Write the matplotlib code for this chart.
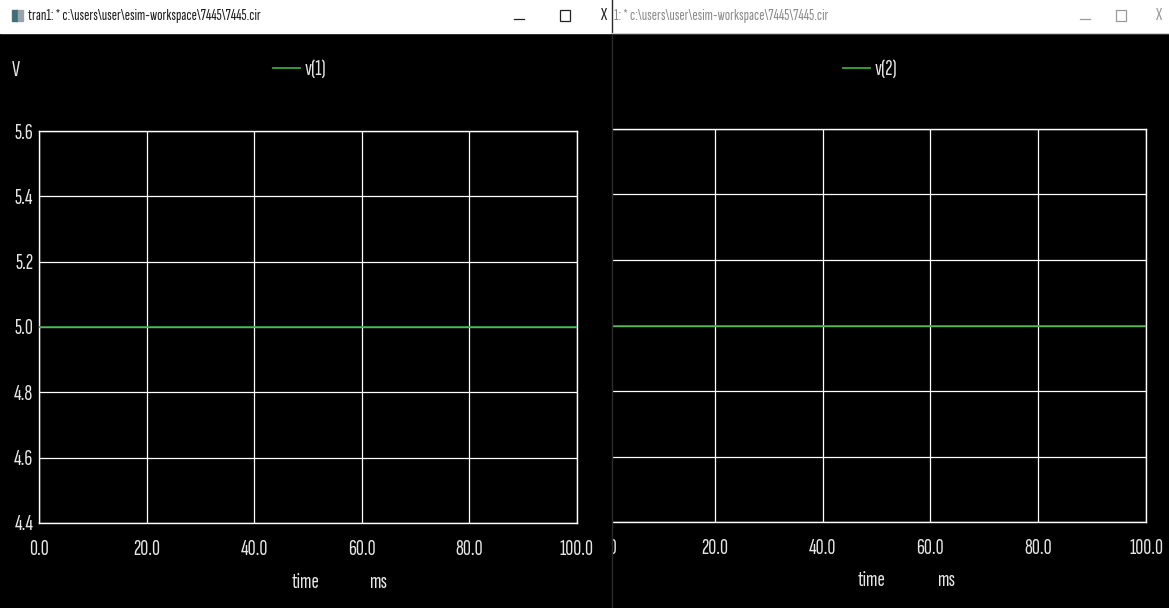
import matplotlib
matplotlib.use("Agg")
import matplotlib.pyplot as plt
from matplotlib.patches import Rectangle

# Transient analysis results: node voltages over time
time_ms = [0.0, 100.0]
v1 = [5.0, 5.0]
v2 = [5.0, 5.0]

x_ticks = [0, 20, 40, 60, 80, 100]
x_tick_labels = ["0.0", "20.0", "40.0", "60.0", "80.0", "100.0"]
y_ticks = [4.4, 4.6, 4.8, 5.0, 5.2, 5.4, 5.6]
y_tick_labels = ["4.4", "4.6", "4.8", "5.0", "5.2", "5.4", "5.6"]

trace_names = ["v(1)", "v(2)"]
window_title = r"tran1: * c:\users\user\esim-workspace\7445\7445.cir"

W, H = 1169, 608
FONT = ["Sofia Sans Extra Condensed", "DejaVu Sans"]
plt.rcParams["font.family"] = FONT
GREEN = "#36a83a"
TXT = "#e6e6e6"
FS = 16

fig = plt.figure(figsize=(W / 100, H / 100), dpi=100, facecolor="black")


def px_rect(x0, y0, x1, y1):
    """Figure rectangle from pixel edges (origin top-left)."""
    return [x0 / W, 1 - y1 / H, (x1 - x0) / W, (y1 - y0) / H]


def draw_plot(ax, t, v):
    ax.set_facecolor("black")
    ax.plot(t, v, color=GREEN, lw=1.2, zorder=3)
    ax.set_xlim(x_ticks[0], x_ticks[-1])
    ax.set_ylim(y_ticks[0], y_ticks[-1])
    ax.set_xticks(x_ticks, x_tick_labels)
    ax.set_yticks(y_ticks, y_tick_labels)
    ax.grid(True, color="white", lw=0.9)
    for s in ax.spines.values():
        s.set_color("white")
        s.set_linewidth(1.0)
    ax.tick_params(length=0, colors=TXT, labelsize=FS)
    ax.tick_params(axis="x", pad=12)
    ax.tick_params(axis="y", pad=4)


# Right plot window (partly hidden behind the left one)
ax_r = fig.add_axes(px_rect(607, 129, 1146, 522), zorder=1)
draw_plot(ax_r, time_ms, v2)

# Left plot window background
ax_lwin = fig.add_axes(px_rect(0, 0, 612, H), zorder=2)
ax_lwin.set_facecolor("black")
ax_lwin.set_xticks([])
ax_lwin.set_yticks([])
for s in ax_lwin.spines.values():
    s.set_visible(False)

ax_l = fig.add_axes(px_rect(39, 131, 577, 523), zorder=3)
draw_plot(ax_l, time_ms, v1)

# Window chrome, legends and axis captions in pixel coordinates
ov = fig.add_axes([0, 0, 1, 1], zorder=4)
ov.set_xlim(0, W)
ov.set_ylim(H, 0)
ov.axis("off")
ov.patch.set_alpha(0)

# title bars
ov.add_patch(Rectangle((0, 0), 612, 33, color="white"))
ov.add_patch(Rectangle((612, 0), W - 612, 33, color="white"))
ov.plot([612, 612], [0, H], color="#2b2b2b", lw=1.0)
ov.plot([612, W], [33, 33], color="#d0d0d0", lw=0.8)

# app icon
ov.add_patch(Rectangle((12, 10), 6, 11, color="#3f6f78"))
ov.add_patch(Rectangle((18, 10), 5, 11, color="#9aa4a8"))

ov.text(28, 16, window_title, color="#1a1a1a", fontsize=11.4,
        ha="left", va="center")
ov.text(614, 16, window_title[4:], color="#8a8a8a", fontsize=11.4,
        ha="left", va="center")

for (xm, xb, xc, col) in [(519, 565, 603, "#222222"),
                          (1085, 1121, 1158, "#9a9a9a")]:
    ov.plot([xm - 5, xm + 5], [19, 19], color=col, lw=0.9)
    ov.add_patch(Rectangle((xb - 5, 10), 10, 11, fill=False, ec=col, lw=0.9))
    ov.text(xc, 16, "X", color=col, fontsize=13, ha="center", va="center")

# legends
for (x0, name) in [(273, trace_names[0]), (843, trace_names[1])]:
    ov.plot([x0, x0 + 27], [68, 68], color=GREEN, lw=1.3)
    ov.text(x0 + 32, 69, name, color=TXT, fontsize=FS, ha="left", va="center")

# axis captions
ov.text(12, 70, "V", color=TXT, fontsize=FS, ha="left", va="center")
ov.text(305, 583, "time", color=TXT, fontsize=FS, ha="center", va="center")
ov.text(378, 583, "ms", color=TXT, fontsize=FS, ha="center", va="center")
ov.text(872, 581, "time", color=TXT, fontsize=FS, ha="center", va="center")
ov.text(946, 581, "ms", color=TXT, fontsize=FS, ha="center", va="center")

fig.savefig("out.png", dpi=100, facecolor="black")
